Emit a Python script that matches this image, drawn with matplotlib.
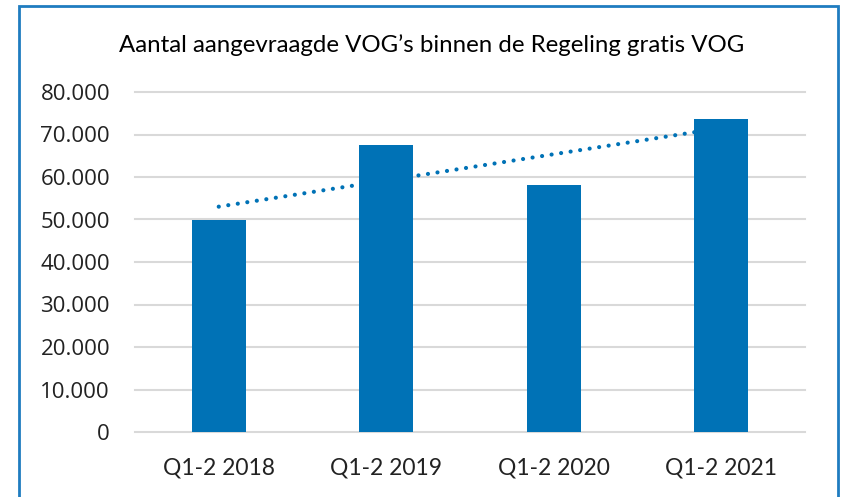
import numpy as np
import matplotlib.pyplot as plt
from matplotlib.patches import Rectangle
from matplotlib.ticker import FuncFormatter

categories = ["Q1-2 2018", "Q1-2 2019", "Q1-2 2020", "Q1-2 2021"]
aantal = [49900, 67500, 58100, 73600]
title = "Aantal aangevraagde VOG\u2019s binnen de Regeling gratis VOG"

blue = "#0072B6"

fig = plt.figure(figsize=(8.44, 4.97), dpi=100)
ax = fig.add_axes([135 / 844, 1 - 432 / 497, 670 / 844, 340 / 497])

x = np.arange(len(categories))
ax.bar(x, aantal, width=0.32, color=blue, zorder=3)

# lineaire trendlijn
coef = np.polyfit(x, aantal, 1)
ax.plot(x, np.polyval(coef, x), color=blue, linestyle=(0, (0.01, 2.3)),
        linewidth=3, dash_capstyle="round", zorder=4)

ax.set_xlim(-0.5, len(categories) - 0.5)
ax.set_ylim(0, 80000)
ax.set_yticks(np.arange(0, 80001, 10000))
ax.yaxis.set_major_formatter(FuncFormatter(lambda v, p: f"{int(v):,}".replace(",", ".")))
ax.grid(axis="y", color="#D9D9D9", linewidth=1.5, zorder=0)
for gl in ax.get_ygridlines():
    gl.set_clip_on(False)
for s in ax.spines.values():
    s.set_visible(False)
ax.set_xticks(x)
ax.set_xticklabels(categories)
ax.tick_params(length=0)
ax.tick_params(axis="y", pad=18, labelsize=16, labelcolor="#222222",
               labelfontfamily=["Open Sans", "DejaVu Sans"])
ax.tick_params(axis="x", pad=18, labelsize=16.5, labelcolor="#222222",
               labelfontfamily=["Lato", "DejaVu Sans"])

fig.text(432 / 844, 1 - 45 / 497, title, ha="center", va="center", fontsize=17.3,
         family=["Lato", "DejaVu Sans"], color="black")

# kader rond de grafiek
fig.patches.append(Rectangle((19 / 844, -0.05), (838 - 19) / 844, 1.05 - 6 / 497,
                             transform=fig.transFigure, fill=False,
                             edgecolor="#1F7CC0", linewidth=2))

fig.savefig("out.png", dpi=100)
